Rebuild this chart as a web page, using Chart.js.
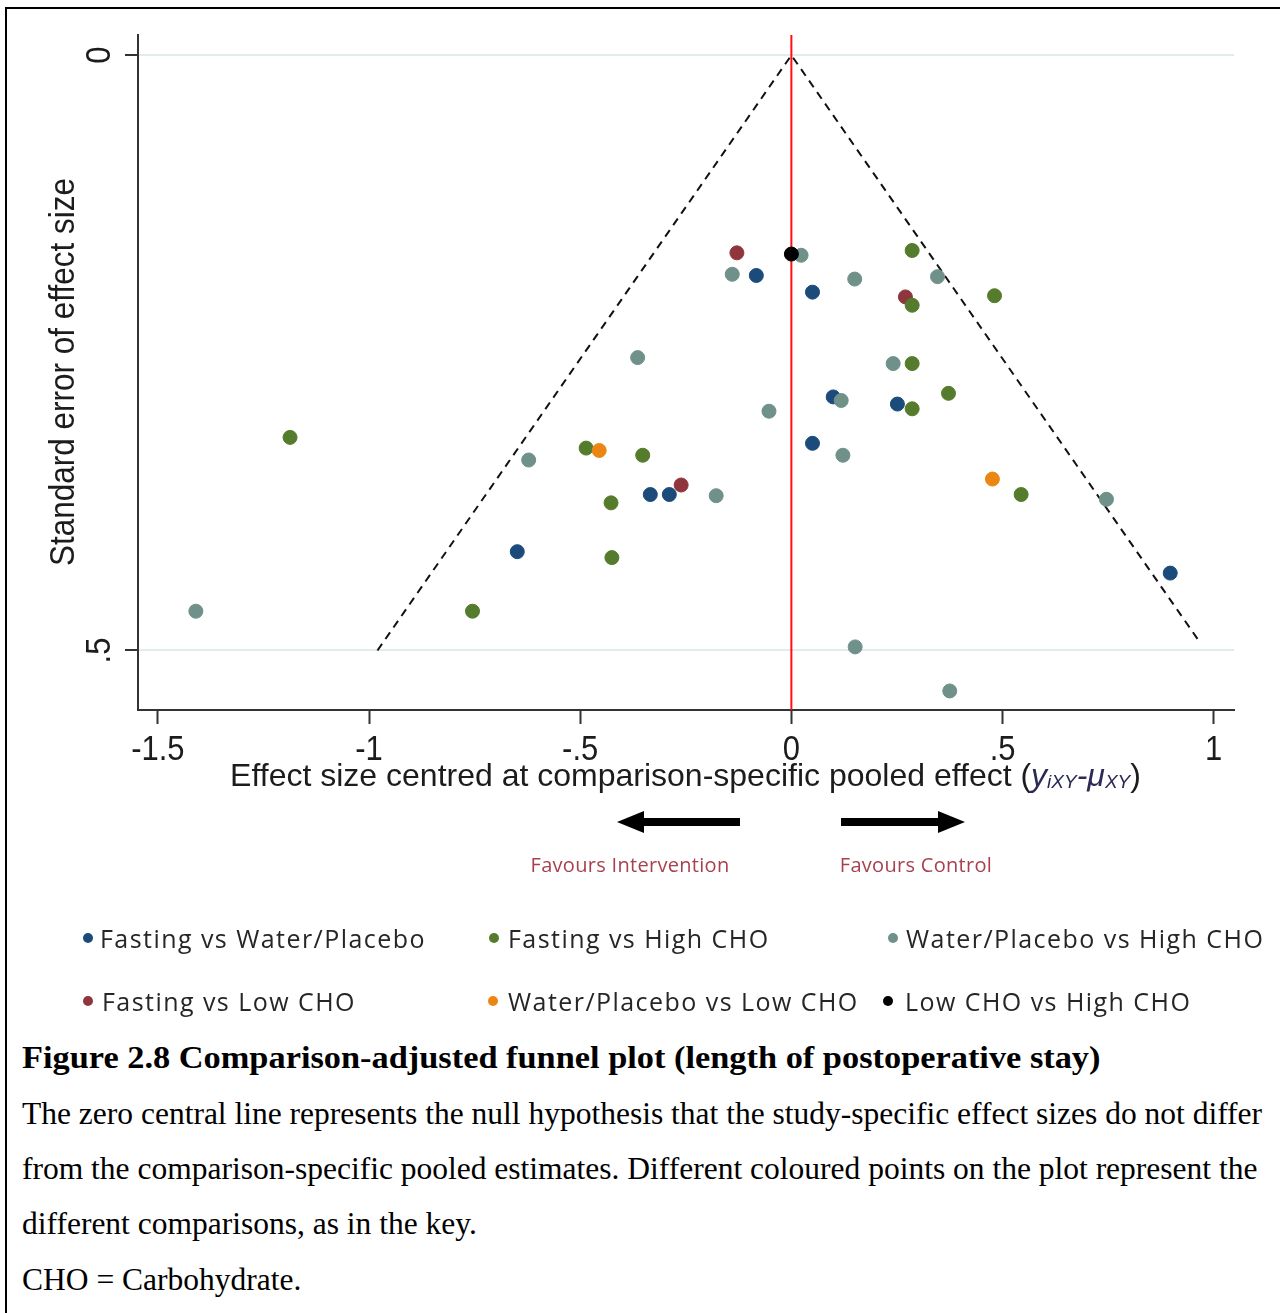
<!DOCTYPE html>
<html>
<head>
<meta charset="utf-8">
<script src="https://cdn.jsdelivr.net/npm/chart.js@4.4.1/dist/chart.umd.min.js"></script>
<style>
body { margin: 0; background: #fff; }
#page { position: relative; width: 1280px; height: 1313px; overflow: hidden; background: #fff; }
#frame { position: absolute; left: 5px; top: 7px; width: 1300px; height: 1320px; border-left: 2px solid #000; border-top: 2px solid #000; }
#funnel { position: absolute; left: 0; top: 0; }
.fav { position: absolute; transform: translateX(-50%); font-family: "Open Sans"; font-size: 20px; color: #a8414f; white-space: nowrap; letter-spacing: 0.3px; }
.leg { position: absolute; font-family: "Open Sans"; font-size: 25px; color: #262626; white-space: nowrap; letter-spacing: 1.45px; line-height: 30px; }
.dot { position: absolute; width: 10px; height: 10px; border-radius: 50%; }
.cap { position: absolute; left: 22px; font-family: "Liberation Serif"; font-size: 31.5px; color: #000; white-space: nowrap; line-height: 34px; transform-origin: 0 50%; }
.cap.ttl { font-size: 31px; font-weight: bold; transform: scaleX(1.108); }
</style>
</head>
<body>
<div id="page">
  <div id="frame"></div>
  <canvas id="funnel" width="1280" height="1030"></canvas>
  <div class="fav" style="left:630px; top:851px;">Favours Intervention</div>
  <div class="fav" style="left:916px; top:851px;">Favours Control</div>
  <div id="legend"></div>
  <div class="cap ttl" style="top:1041px;">Figure 2.8 Comparison-adjusted funnel plot (length of postoperative stay)</div>
  <div class="cap" style="top:1097px;">The zero central line represents the null hypothesis that the study-specific effect sizes do not differ</div>
  <div class="cap" style="top:1152px;">from the comparison-specific pooled estimates. Different coloured points on the plot represent the</div>
  <div class="cap" style="top:1207px;">different comparisons, as in the key.</div>
  <div class="cap" style="top:1263px;">CHO = Carbohydrate.</div>
</div>
<script>
// series names and colours, in legend order
const seriesNames = ['Fasting vs Water/Placebo', 'Fasting vs High CHO', 'Water/Placebo vs High CHO',
                     'Fasting vs Low CHO', 'Water/Placebo vs Low CHO', 'Low CHO vs High CHO'];
const seriesColors = ['#1b4b7a', '#557b2c', '#6f9189', '#8f363c', '#ec8612', '#000000'];

// effect size (x) and standard error (y)
const fwpX = [-0.083, 0.050, 0.099, 0.251, 0.050, -0.334, -0.289, -0.649, 0.897];
const fwpY = [0.185, 0.199, 0.287, 0.293, 0.326, 0.369, 0.369, 0.417, 0.435];

const fhX = [0.286, 0.481, 0.286, 0.286, 0.372, 0.286, -1.187, -0.486, -0.352, -0.427, -0.425, -0.755, 0.544];
const fhY = [0.164, 0.202, 0.210, 0.259, 0.284, 0.297, 0.321, 0.330, 0.336, 0.376, 0.422, 0.467, 0.369];

const whX = [0.023, -0.140, 0.150, 0.346, -0.364, 0.241, 0.118, -0.053, -0.622, -0.178, 0.122, -1.410, 0.746, 0.151, 0.375];
const whY = [0.168, 0.184, 0.188, 0.186, 0.254, 0.259, 0.290, 0.299, 0.340, 0.370, 0.336, 0.467, 0.373, 0.497, 0.534];

const flX = [-0.129, 0.270, -0.261];
const flY = [0.166, 0.203, 0.361];

const wlX = [-0.455, 0.476];
const wlY = [0.332, 0.356];

const lhX = [0.000];
const lhY = [0.167];

// pseudo 95% limits and the null line
const funnelX = [-0.980, 0, 0.965];
const funnelY = [0.500, 0, 0.492];

const xTickVals = [-1.5, -1, -0.5, 0, 0.5, 1];
const xTickLabels = ['-1.5', '-1', '-.5', '0', '.5', '1'];
const yTickVals = [0, 0.5];
const yTickLabels = ['0', '.5'];

const xMin = -1.547, xMax = 1.048;
const yMin = -0.017, yMax = 0.55;

function pts(xs, ys) {
    return xs.map((x, i) => ({ x: x, y: ys[i] }));
}

const seriesData = [pts(fwpX, fwpY), pts(fhX, fhY), pts(whX, whY), pts(flX, flY), pts(wlX, wlY), pts(lhX, lhY)];
// first dataset is drawn on top
const drawOrder = [5, 4, 2, 1, 3, 0];

const datasets = drawOrder.map(i => ({
    type: 'scatter',
    label: seriesNames[i],
    data: seriesData[i],
    backgroundColor: seriesColors[i],
    borderColor: seriesColors[i],
    borderWidth: 1,
    pointRadius: 7,
    pointHoverRadius: 7
}));

datasets.push({
    type: 'line',
    label: 'null',
    data: pts([0, 0], [yMin, yMax]),
    borderColor: '#ff1010',
    borderWidth: 2,
    pointRadius: 0,
    fill: false
});
datasets.push({
    type: 'line',
    label: 'limits',
    data: pts(funnelX, funnelY),
    borderColor: '#111',
    borderWidth: 2,
    borderDash: [8, 6],
    pointRadius: 0,
    fill: false,
    tension: 0
});

function drawText(ctx, text, x, y, rot, font, sy, align) {
    ctx.save();
    ctx.translate(x, y);
    ctx.rotate(rot);
    ctx.scale(1, sy);
    ctx.font = font;
    ctx.textAlign = align;
    ctx.textBaseline = 'alphabetic';
    ctx.fillText(text, 0, 0);
    ctx.restore();
}

const overlay = {
    id: 'overlay',
    afterDraw(chart) {
        const ctx = chart.ctx;
        const xs = chart.scales.x, ys = chart.scales.y;
        ctx.save();
        ctx.fillStyle = '#1c1c1c';

        xTickVals.forEach((v, i) => {
            drawText(ctx, xTickLabels[i], xs.getPixelForValue(v), 760, 0, '31px "Liberation Sans"', 1.12, 'center');
        });
        yTickVals.forEach((v, i) => {
            drawText(ctx, yTickLabels[i], 110, ys.getPixelForValue(v), -Math.PI / 2, '31px "Liberation Sans"', 1.12, 'center');
        });
        drawText(ctx, 'Standard error of effect size', 74, 372, -Math.PI / 2, '31.5px "Liberation Sans"', 1.12, 'center');

        // x axis title with italic subscripted part
        const parts = [
            { t: 'Effect size centred at comparison-specific pooled effect (', f: '32px "Liberation Sans"', dy: 0 },
            { t: 'y', f: 'italic 32px "Liberation Sans"', dy: 0 },
            { t: 'iXY', f: 'italic 19px "Liberation Sans"', dy: 2 },
            { t: '-', f: 'italic 32px "Liberation Sans"', dy: 0 },
            { t: 'μ', f: 'italic 32px "Liberation Sans"', dy: 0 },
            { t: 'XY', f: 'italic 19px "Liberation Sans"', dy: 2 },
            { t: ')', f: '32px "Liberation Sans"', dy: 0 }
        ];
        let total = 0;
        parts.forEach(p => { ctx.font = p.f; p.w = ctx.measureText(p.t).width; total += p.w; });
        let cx = 685.5 - total / 2;
        ctx.textAlign = 'left';
        ctx.textBaseline = 'alphabetic';
        parts.forEach(p => {
            ctx.font = p.f;
            ctx.fillStyle = p.f.indexOf('italic') >= 0 ? '#2a2a55' : '#1c1c1c';
            ctx.fillText(p.t, cx, 786 + p.dy);
            cx += p.w;
        });

        // direction arrows
        ctx.fillStyle = '#000';
        ctx.fillRect(640, 818, 100, 8);
        ctx.beginPath();
        ctx.moveTo(617, 822); ctx.lineTo(644, 811); ctx.lineTo(644, 833); ctx.closePath();
        ctx.fill();
        ctx.fillRect(841, 818, 100, 8);
        ctx.beginPath();
        ctx.moveTo(965, 822); ctx.lineTo(938, 811); ctx.lineTo(938, 833); ctx.closePath();
        ctx.fill();
        ctx.restore();
    }
};

const ctx = document.getElementById('funnel').getContext('2d');

const config = {
    type: 'scatter',
    data: { datasets: datasets },
    options: {
        responsive: false,
        animation: false,
        layout: { padding: { left: 0, top: 35, right: 46, bottom: 240 } },
        scales: {
            x: {
                type: 'linear',
                min: xMin,
                max: xMax,
                afterBuildTicks: s => { s.ticks = xTickVals.map(v => ({ value: v })); },
                afterFit: s => { s.height = 80; },
                ticks: { display: false },
                grid: { drawOnChartArea: false, tickLength: 14, tickColor: '#333', tickWidth: 2 },
                border: { color: '#333', width: 2 }
            },
            y: {
                type: 'linear',
                reverse: true,
                min: yMin,
                max: yMax,
                afterBuildTicks: s => { s.ticks = yTickVals.map(v => ({ value: v })); },
                afterFit: s => { s.width = 138; },
                ticks: { display: false },
                grid: { color: '#e1ecee', lineWidth: 2, tickLength: 13, tickColor: '#333', tickWidth: 2 },
                border: { color: '#333', width: 2 }
            }
        },
        plugins: {
            legend: { display: false },
            tooltip: { enabled: false }
        }
    },
    plugins: [overlay]
};

const funnelChart = new Chart(ctx, config);

// key below the plot: marker centre x, text start x, row centre y
const keyDotX = [88, 494, 893, 88, 493, 888];
const keyTextX = [100, 508, 906, 102, 508, 905];
const keyRowY = [938, 938, 938, 1001, 1001, 1001];
const legend = document.getElementById('legend');
seriesNames.forEach((name, i) => {
    const dot = document.createElement('div');
    dot.className = 'dot';
    dot.style.left = (keyDotX[i] - 5) + 'px';
    dot.style.top = (keyRowY[i] - 5) + 'px';
    dot.style.background = seriesColors[i];
    legend.appendChild(dot);
    const t = document.createElement('div');
    t.className = 'leg';
    t.style.left = keyTextX[i] + 'px';
    t.style.top = (keyRowY[i] - 15) + 'px';
    t.textContent = name;
    legend.appendChild(t);
});
</script>
</body>
</html>
